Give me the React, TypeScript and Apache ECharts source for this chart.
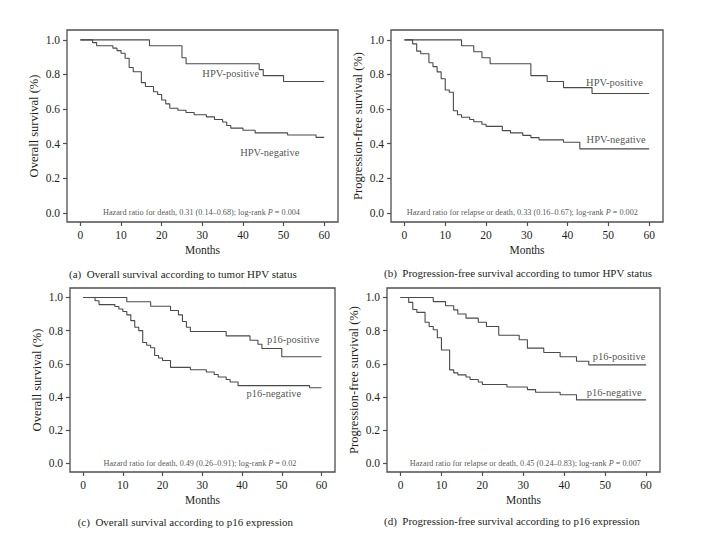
import React, { useEffect, useRef } from "react";
import * as echarts from "echarts";

// ---- tick labels ----
const X_TICKS = [0, 10, 20, 30, 40, 50, 60];
const Y_TICKS = [0, 0.2, 0.4, 0.6, 0.8, 1.0];

// ---- (a) overall survival by tumor HPV status: [month, survival] ----
const osHpvPos = [[0, 1], [17, 0.966], [25, 0.897], [26, 0.862], [44, 0.828], [45, 0.793], [50, 0.759], [60, 0.759]];
const osHpvNeg = [[0, 1], [3, 0.984], [4, 0.966], [8, 0.952], [9, 0.938], [10, 0.923], [11, 0.894], [12, 0.84], [13, 0.816], [15, 0.753], [16, 0.73], [18, 0.7], [19, 0.684], [20, 0.652], [21, 0.63], [22, 0.605], [24, 0.593], [26, 0.58], [28, 0.567], [31, 0.555], [33, 0.54], [35, 0.525], [36, 0.505], [37, 0.49], [40, 0.477], [43, 0.462], [51, 0.45], [58, 0.436], [60, 0.436]];

// ---- (b) progression-free survival by tumor HPV status ----
const pfsHpvPos = [[0, 1], [14, 0.966], [17, 0.931], [19, 0.897], [21, 0.862], [31, 0.793], [35, 0.759], [39, 0.724], [46, 0.69], [60, 0.69]];
const pfsHpvNeg = [[0, 1], [2, 0.977], [3, 0.935], [4, 0.92], [6, 0.868], [7, 0.845], [8, 0.815], [9, 0.775], [10, 0.71], [11, 0.697], [12, 0.59], [13, 0.567], [14, 0.553], [16, 0.54], [17, 0.527], [19, 0.512], [20, 0.5], [24, 0.475], [26, 0.462], [29, 0.448], [31, 0.435], [33, 0.422], [39, 0.408], [43, 0.37], [60, 0.37]];

// ---- (c) overall survival by p16 expression ----
const osP16Pos = [[0, 1], [11, 0.974], [17, 0.947], [22, 0.921], [24, 0.895], [25, 0.855], [26, 0.82], [27, 0.795], [36, 0.768], [42, 0.742], [44, 0.718], [45, 0.692], [50, 0.642], [60, 0.642]];
const osP16Neg = [[0, 1], [3, 0.98], [4, 0.957], [8, 0.945], [9, 0.93], [10, 0.915], [11, 0.895], [12, 0.86], [13, 0.82], [14, 0.8], [15, 0.728], [16, 0.712], [17, 0.697], [18, 0.65], [19, 0.635], [20, 0.62], [22, 0.578], [27, 0.564], [31, 0.55], [33, 0.535], [34, 0.52], [36, 0.505], [37, 0.49], [39, 0.468], [57, 0.455], [60, 0.455]];

// ---- (d) progression-free survival by p16 expression ----
const pfsP16Pos = [[0, 1], [8, 0.975], [11, 0.95], [13, 0.925], [14, 0.9], [16, 0.875], [19, 0.85], [21, 0.825], [24, 0.772], [29, 0.745], [31, 0.694], [35, 0.668], [39, 0.642], [43, 0.615], [46, 0.593], [60, 0.593]];
const pfsP16Neg = [[0, 1], [2, 0.97], [3, 0.927], [4, 0.91], [6, 0.85], [7, 0.825], [8, 0.805], [9, 0.757], [10, 0.683], [12, 0.563], [13, 0.545], [14, 0.533], [16, 0.52], [17, 0.505], [19, 0.49], [20, 0.475], [26, 0.46], [31, 0.444], [33, 0.428], [39, 0.413], [43, 0.382], [60, 0.382]];

// ---- texts ----
const Y_NAMES = ["Overall survival (%)", "Progression-free survival (%)", "Overall survival (%)", "Progression-free survival (%)"];
const CURVE_LABELS = [["HPV-positive", "HPV-negative"], ["HPV-positive", "HPV-negative"], ["p16-positive", "p16-negative"], ["p16-positive", "p16-negative"]];
const HR_TEXTS = [
  ["Hazard ratio for death, 0.31 (0.14\u20130.68); log-rank ", " = 0.004"],
  ["Hazard ratio for relapse or death, 0.33 (0.16\u20130.67); log-rank ", " = 0.002"],
  ["Hazard ratio for death, 0.49 (0.26\u20130.91); log-rank ", " = 0.02"],
  ["Hazard ratio for relapse or death, 0.45 (0.24\u20130.83); log-rank ", " = 0.007"],
];
const CAPTIONS = [
  "(a)  Overall survival according to tumor HPV status",
  "(b)  Progression-free survival according to tumor HPV status",
  "(c)  Overall survival according to p16 expression",
  "(d)  Progression-free survival according to p16 expression",
];

const FONT = "'Liberation Serif', 'DejaVu Serif', serif";
const TEXT = "#231f20";
const LINE = "#4a4a4a";
const FRAME = "#4f4f4f";

// layout (positions in px)
const LAYOUT = [
  { grid: { left: 67, top: 30, width: 271, height: 192 }, posAt: [37, 0.807], negAt: [46.6, 0.351], hrX: 29.8, cap: [69, 274] },
  { grid: { left: 391, top: 30, width: 272, height: 192 }, posAt: [51.5, 0.752], negAt: [51.9, 0.423], hrX: 28.9, cap: [384, 273] },
  { grid: { left: 70, top: 288, width: 265, height: 184 }, posAt: [52.9, 0.745], negAt: [48, 0.418], hrX: 29.4, cap: [77.7, 522] },
  { grid: { left: 387, top: 288, width: 273, height: 184 }, posAt: [53.4, 0.641], negAt: [52.2, 0.428], hrX: 30.5, cap: [384, 520.7] },
];

const CURVES = [
  [osHpvPos, osHpvNeg],
  [pfsHpvPos, pfsHpvNeg],
  [osP16Pos, osP16Neg],
  [pfsP16Pos, pfsP16Neg],
];

const X_MIN = -3.3;
const X_MAX = 63.4;
const Y_MIN = -0.053;
const Y_MAX = 1.057;

function buildOption() {
  const grid: any[] = [];
  const xAxis: any[] = [];
  const yAxis: any[] = [];
  const series: any[] = [];
  const graphic: any[] = [];

  LAYOUT.forEach((L, i) => {
    grid.push({ ...L.grid, containLabel: false });
    xAxis.push({
      type: "value",
      gridIndex: i,
      position: "bottom",
      min: X_MIN,
      max: X_MAX,
      axisLine: { show: false, onZero: false },
      axisTick: { show: true, inside: false, customValues: X_TICKS, length: 4, lineStyle: { color: FRAME, width: 1.2 } },
      axisLabel: { customValues: X_TICKS, margin: 7, fontSize: 11.5, fontFamily: FONT, color: TEXT },
      splitLine: { show: false },
      name: "Months",
      nameLocation: "middle",
      nameGap: 22,
      nameTextStyle: { fontSize: 11.5, fontFamily: FONT, color: TEXT },
    });
    yAxis.push({
      type: "value",
      gridIndex: i,
      position: "left",
      min: Y_MIN,
      max: Y_MAX,
      axisLine: { show: false, onZero: false },
      axisTick: { show: true, inside: false, customValues: Y_TICKS, length: 4, lineStyle: { color: FRAME, width: 1.2 } },
      axisLabel: {
        customValues: Y_TICKS,
        margin: 7,
        fontSize: 11.5,
        fontFamily: FONT,
        color: TEXT,
        formatter: (v: number) => v.toFixed(1),
      },
      splitLine: { show: false },
      name: Y_NAMES[i],
      nameLocation: "middle",
      nameGap: 27,
      nameTextStyle: { fontSize: 12.5, fontFamily: FONT, color: TEXT },
    });
    CURVES[i].forEach((data) => {
      series.push({
        type: "line",
        xAxisIndex: i,
        yAxisIndex: i,
        step: "end",
        symbol: "none",
        showSymbol: false,
        silent: true,
        lineStyle: { color: LINE, width: 1.1 },
        data,
      });
    });
    series.push({
      type: "scatter",
      xAxisIndex: i,
      yAxisIndex: i,
      symbolSize: 0,
      silent: true,
      z: 5,
      label: {
        show: true,
        position: [0, 0],
        align: "center",
        verticalAlign: "middle",
        fontSize: 10.5,
        fontFamily: FONT,
        color: TEXT,
        formatter: (p: any) => p.data.name,
      },
      data: [
        { name: CURVE_LABELS[i][0], value: L.posAt },
        { name: CURVE_LABELS[i][1], value: L.negAt },
      ],
    });
    series.push({
      type: "scatter",
      xAxisIndex: i,
      yAxisIndex: i,
      symbolSize: 0,
      silent: true,
      z: 5,
      label: {
        show: true,
        position: [0, 0],
        align: "center",
        verticalAlign: "middle",
        formatter: "{n|" + HR_TEXTS[i][0] + "}{i|P}{n|" + HR_TEXTS[i][1] + "}",
        rich: {
          n: { fontSize: 8.2, fontFamily: FONT, color: TEXT },
          i: { fontSize: 8.2, fontFamily: FONT, color: TEXT, fontStyle: "italic" },
        },
      },
      data: [[L.hrX, 0]],
    });
    // plot frame
    graphic.push({
      type: "rect",
      silent: true,
      z: 10,
      shape: { x: L.grid.left, y: L.grid.top, width: L.grid.width, height: L.grid.height },
      style: { fill: "rgba(0,0,0,0)", stroke: FRAME, lineWidth: 1.3 },
    });
    graphic.push({
      type: "text",
      x: L.cap[0],
      y: L.cap[1],
      silent: true,
      style: {
        text: CAPTIONS[i],
        fontSize: 11,
        fontFamily: FONT,
        fill: TEXT,
        verticalAlign: "middle",
        align: "left",
      },
    });
  });

  return {
    animation: false,
    backgroundColor: "#ffffff",
    grid,
    xAxis,
    yAxis,
    series,
    graphic,
  };
}

export default function App() {
  const ref = useRef<HTMLDivElement>(null);
  useEffect(() => {
    if (!ref.current) return;
    const chart = echarts.init(ref.current, null, { renderer: "svg" });
    chart.setOption(buildOption());
    return () => chart.dispose();
  }, []);
  return (
    <div
      ref={ref}
      style={{ position: "fixed", left: 0, top: 0, width: 703, height: 538, background: "#fff" }}
    />
  );
}
